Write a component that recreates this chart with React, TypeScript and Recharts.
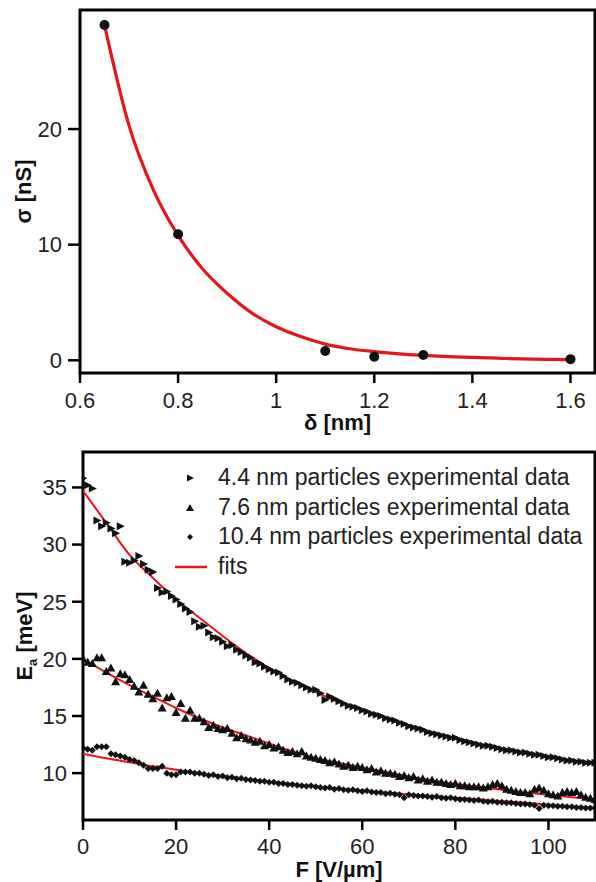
import React from 'react';
import { ComposedChart, Scatter, Line, XAxis, YAxis, ReferenceArea } from 'recharts';

const FONT = '"Liberation Sans", Arial, Helvetica, sans-serif';
const RED = '#e8141c';
const INK = '#111';
const TICK_INK = '#222';

// ---------- Top panel: sigma vs delta ----------
const deltaPoints = [0.65, 0.8, 1.1, 1.2, 1.3, 1.6];
const sigmaPoints = [29.0, 10.9, 0.8, 0.3, 0.45, 0.1];
const deltaFit = [0.65, 0.7, 0.75, 0.8, 0.85, 0.9, 0.95, 1.0, 1.05, 1.1, 1.15, 1.2, 1.25, 1.3, 1.35, 1.4, 1.45, 1.5, 1.55, 1.6];
const sigmaFit = [29.0, 20.3, 14.7, 10.8, 7.9, 5.8, 4.1, 2.9, 2.05, 1.4, 1.0, 0.75, 0.55, 0.42, 0.32, 0.25, 0.18, 0.12, 0.08, 0.05];
const deltaTicks = [0.6, 0.8, 1, 1.2, 1.4, 1.6];
const sigmaTicks = [0, 10, 20];
const deltaDomain = [0.6, 1.65];
const sigmaDomain = [-1.1, 30.3];

// ---------- Bottom panel: Ea vs F ----------
const fieldValues = [
  0, 1, 2, 3, 4, 5, 6, 7, 8, 9, 10, 11, 12, 13, 14, 15, 16, 17, 18, 19,
  20, 21, 22, 23, 24, 25, 26, 27, 28, 29, 30, 31, 32, 33, 34, 35, 36, 37, 38, 39,
  40, 41, 42, 43, 44, 45, 46, 47, 48, 49, 50, 51, 52, 53, 54, 55, 56, 57, 58, 59,
  60, 61, 62, 63, 64, 65, 66, 67, 68, 69, 70, 71, 72, 73, 74, 75, 76, 77, 78, 79,
  80, 81, 82, 83, 84, 85, 86, 87, 88, 89, 90, 91, 92, 93, 94, 95, 96, 97, 98, 99,
  100, 101, 102, 103, 104, 105, 106, 107, 108, 109, 110,
];
const ea44 = [
  35.8, 35.2, 34.9, 32.1, 31.6, 31.9, 31.4, 31.0, 31.6, 28.5, 28.4, 28.6, 29.0, 28.3, 27.8, 27.6, 26.2, 25.8, 25.9, 25.5,
  25.2, 24.8, 24.4, 24.1, 23.3, 22.8, 22.9, 22.3, 21.9, 21.8, 21.5, 21.1, 21.2, 20.8, 20.6, 20.3, 20.1, 19.7, 19.6, 19.3,
  19.1, 18.9, 18.8, 18.5, 18.2, 18.0, 17.9, 17.7, 17.5, 17.3, 17.3, 17.0, 16.4, 16.7, 16.5, 16.3, 16.1, 15.9, 15.8, 15.7,
  15.5, 15.4, 15.2, 15.1, 15.0, 14.8, 14.7, 14.6, 14.4, 14.3, 14.1, 14.0, 13.9, 13.8, 13.6, 13.5, 13.4, 13.3, 13.2, 13.1,
  13.1, 12.9, 12.8, 12.7, 12.6, 12.5, 12.4, 12.4, 12.3, 12.2, 12.1, 12.0, 12.0, 11.9, 11.8, 11.8, 11.7, 11.6, 11.6, 11.5,
  11.4, 11.4, 11.3, 11.2, 11.1, 11.1, 11.0, 11.0, 10.9, 10.9, 10.9,
];
const ea76 = [
  20.0, 19.7, 19.6, 20.1, 20.1, 18.9, 19.2, 18.0, 18.7, 18.6, 18.2, 17.6, 17.1, 17.7, 16.9, 16.5, 17.0, 15.7, 16.6, 16.7,
  15.3, 16.1, 14.8, 15.5, 14.8, 14.8, 14.5, 14.0, 14.2, 13.9, 13.8, 13.9, 13.5, 13.1, 13.3, 13.0, 12.9, 12.7, 12.8, 12.4,
  12.5, 12.2, 12.3, 12.0, 11.8, 11.9, 11.7, 11.9, 11.5, 11.4, 11.3, 11.2, 11.1, 10.9, 11.0, 10.8, 10.6, 10.7, 10.5, 10.6,
  10.5, 10.3, 10.4, 10.1, 10.2, 10.0, 10.0, 9.9, 9.7, 9.8, 9.6, 9.7, 9.4, 9.5, 9.3, 9.4, 9.2, 9.2, 9.1, 9.0,
  9.1, 8.9, 8.9, 8.8, 8.8, 8.8, 8.7, 8.8, 9.0, 9.1, 8.9, 8.6, 8.5, 8.4, 8.3, 8.3, 8.2, 8.6, 8.7, 8.5,
  8.2, 8.1, 8.0, 8.3, 8.4, 8.3, 8.4, 8.1, 7.9, 7.8, 7.7,
];
const ea104 = [
  12.2, 12.1, 12.0, 12.3, 12.3, 12.3, 11.7, 11.6, 11.5, 11.4, 11.2, 11.1, 10.9, 10.7, 10.4, 10.4, 10.4, 10.6, 10.0, 9.85,
  9.85, 10.1, 10.1, 10.1, 10.0, 10.0, 9.9, 9.8, 9.85, 9.7, 9.75, 9.6, 9.65, 9.5, 9.55, 9.45, 9.4, 9.35, 9.3, 9.3,
  9.2, 9.2, 9.1, 9.1, 9.0, 9.0, 8.95, 8.9, 8.85, 8.9, 8.8, 8.75, 8.7, 8.75, 8.6, 8.65, 8.55, 8.5, 8.55, 8.45,
  8.4, 8.45, 8.35, 8.3, 8.3, 8.2, 8.25, 8.15, 8.1, 7.85, 8.1, 8.05, 8.0, 8.0, 7.95, 7.9, 7.95, 7.85, 7.8, 7.85,
  7.75, 7.7, 7.7, 7.65, 7.6, 7.65, 7.55, 7.5, 7.55, 7.45, 7.45, 7.4, 7.4, 7.35, 7.3, 7.3, 7.25, 7.2, 6.9, 7.2,
  7.15, 7.15, 7.1, 7.1, 7.05, 7.05, 7.0, 7.0, 6.95, 6.95, 6.95,
];
const fieldFit = [0, 5, 10, 15, 20, 25, 30, 35, 40, 45, 50, 55, 60, 65, 70, 75, 80, 85, 90, 95, 100, 105, 110];
const fit44 = [34.7, 31.9, 29.1, 27.1, 25.2, 23.6, 22.0, 20.5, 19.2, 18.1, 17.1, 16.2, 15.5, 14.8, 14.1, 13.5, 13.0, 12.5, 12.1, 11.75, 11.4, 11.1, 10.9];
const fit76 = [20.0, 18.8, 17.7, 16.7, 15.7, 14.8, 14.0, 13.3, 12.6, 11.9, 11.3, 10.9, 10.5, 10.1, 9.7, 9.35, 9.05, 8.8, 8.55, 8.3, 8.1, 7.9, 7.7];
const fit104 = [11.7, 11.3, 10.95, 10.6, 10.3, 10.0, 9.75, 9.5, 9.25, 9.05, 8.85, 8.65, 8.5, 8.3, 8.15, 8.0, 7.85, 7.7, 7.55, 7.4, 7.25, 7.1, 6.95];
const fieldTicks = [0, 20, 40, 60, 80, 100];
const eaTicks = [10, 15, 20, 25, 30, 35];
const fieldDomain = [0, 110];
const eaDomain = [5.9, 38.1];
const seriesNames = [
  '4.4 nm particles experimental data',
  '7.6 nm particles experimental data',
  '10.4 nm particles experimental data',
  'fits',
];

const toXY = (xs: number[], ys: number[]) => xs.map((x, i) => ({ x, y: ys[i] }));

const topPoints = toXY(deltaPoints, sigmaPoints);
const topFit = toXY(deltaFit, sigmaFit);
const d44 = toXY(fieldValues, ea44);
const d76 = toXY(fieldValues, ea76);
const d104 = toXY(fieldValues, ea104);
const f44 = toXY(fieldFit, fit44);
const f76 = toXY(fieldFit, fit76);
const f104 = toXY(fieldFit, fit104);

// ---------- marker shapes ----------
const Dot = (p: any) => (p.cx == null ? null : <circle cx={p.cx} cy={p.cy} r={5} fill={INK} />);
const RightTri = (p: any) =>
  p.cx == null ? null : (
    <path d={`M${p.cx - 3.5},${p.cy - 4}L${p.cx + 4.5},${p.cy}L${p.cx - 3.5},${p.cy + 4}Z`} fill={INK} />
  );
const UpTri = (p: any) =>
  p.cx == null ? null : (
    <path d={`M${p.cx},${p.cy - 4.5}L${p.cx + 4.5},${p.cy + 3.5}L${p.cx - 4.5},${p.cy + 3.5}Z`} fill={INK} />
  );
const Diamond = (p: any) =>
  p.cx == null ? null : (
    <path d={`M${p.cx},${p.cy - 3.5}L${p.cx + 3.5},${p.cy}L${p.cx},${p.cy + 3.5}L${p.cx - 3.5},${p.cy}Z`} fill={INK} />
  );

// ---------- axis titles ----------
const yTitle = (content: React.ReactNode, dx: number) => (props: any) => {
  const vb = props.viewBox || { x: 0, y: 0, width: 0, height: 0 };
  const x = vb.x + dx;
  const y = vb.y + vb.height / 2;
  return (
    <text x={x} y={y} transform={`rotate(-90 ${x} ${y})`} textAnchor="middle" fontFamily={FONT} fontWeight="bold" fontSize={22} fill={INK}>
      {content}
    </text>
  );
};
const xTitle = (content: React.ReactNode, dy: number) => (props: any) => {
  const vb = props.viewBox || { x: 0, y: 0, width: 0, height: 0 };
  const x = vb.x + vb.width / 2;
  const y = vb.y + dy;
  return (
    <text x={x} y={y} textAnchor="middle" fontFamily={FONT} fontWeight="bold" fontSize={22} fill={INK}>
      {content}
    </text>
  );
};

const tickStyle = { fontSize: 22, fill: TICK_INK, fontFamily: FONT };
const tickLine = { stroke: '#000', strokeWidth: 2.5 };

const legendMarkers = [
  <svg width={40} height={14} key="m0"><path d="M17,3.5L24,7L17,10.5Z" fill={INK} /></svg>,
  <svg width={40} height={14} key="m1"><path d="M20,3L24,10L16,10Z" fill={INK} /></svg>,
  <svg width={40} height={14} key="m2"><path d="M20,4L23,7L20,10L17,7Z" fill={INK} /></svg>,
  <svg width={40} height={14} key="m3"><line x1={5} y1={7} x2={37} y2={7} stroke={RED} strokeWidth={2.5} /></svg>,
];

export default function App() {
  return (
    <div style={{ position: 'absolute', left: 0, top: 0, width: 596, height: 882, background: '#fff', fontFamily: FONT }}>
      <ComposedChart width={596} height={440} margin={{ top: 10, right: 1, bottom: 10, left: 0 }}>
        <XAxis
          dataKey="x"
          type="number"
          domain={deltaDomain}
          ticks={deltaTicks}
          interval={0}
          allowDataOverflow
          axisLine={false}
          tickLine={tickLine}
          tickSize={10}
          tickMargin={9}
          tick={tickStyle}
          height={57}
          label={xTitle('δ [nm]', 57)}
        />
        <YAxis
          dataKey="y"
          type="number"
          domain={sigmaDomain}
          ticks={sigmaTicks}
          interval={0}
          allowDataOverflow
          axisLine={false}
          tickLine={tickLine}
          tickSize={12}
          tickMargin={6}
          tick={tickStyle}
          width={80}
          label={yTitle('σ [nS]', 31)}
        />
        <Scatter data={topPoints} shape={Dot} isAnimationActive={false} />
        <Line data={topFit} dataKey="y" type="monotone" stroke={RED} strokeWidth={3.2} dot={false} activeDot={false} isAnimationActive={false} />
        <ReferenceArea x1={deltaDomain[0]} x2={deltaDomain[1]} y1={sigmaDomain[0]} y2={sigmaDomain[1]} fill="none" stroke="#000" strokeWidth={3} ifOverflow="visible" />
      </ComposedChart>

      <ComposedChart width={596} height={442} margin={{ top: 12, right: 1, bottom: 10, left: 0 }}>
        <XAxis
          dataKey="x"
          type="number"
          domain={fieldDomain}
          ticks={fieldTicks}
          interval={0}
          allowDataOverflow
          axisLine={false}
          tickLine={tickLine}
          tickSize={10}
          tickMargin={8}
          tick={tickStyle}
          height={52}
          label={xTitle('F [V/µm]', 57)}
        />
        <YAxis
          dataKey="y"
          type="number"
          domain={eaDomain}
          ticks={eaTicks}
          interval={0}
          allowDataOverflow
          axisLine={false}
          tickLine={tickLine}
          tickSize={11}
          tickMargin={5}
          tick={tickStyle}
          width={83}
          label={yTitle(
            <>
              <tspan>E</tspan>
              <tspan fontSize={13} dy={5}>a</tspan>
              <tspan dy={-5}> [meV]</tspan>
            </>,
            32
          )}
        />
        <Scatter data={d44} shape={RightTri} isAnimationActive={false} />
        <Scatter data={d76} shape={UpTri} isAnimationActive={false} />
        <Scatter data={d104} shape={Diamond} isAnimationActive={false} />
        <Line data={f44} dataKey="y" type="monotone" stroke={RED} strokeWidth={2} dot={false} activeDot={false} isAnimationActive={false} />
        <Line data={f76} dataKey="y" type="monotone" stroke={RED} strokeWidth={2} dot={false} activeDot={false} isAnimationActive={false} />
        <Line data={f104} dataKey="y" type="monotone" stroke={RED} strokeWidth={2} dot={false} activeDot={false} isAnimationActive={false} />
        <ReferenceArea x1={fieldDomain[0]} x2={fieldDomain[1]} y1={eaDomain[0]} y2={eaDomain[1]} fill="none" stroke="#000" strokeWidth={3} ifOverflow="visible" />
      </ComposedChart>

      <div style={{ position: 'absolute', left: 170, top: 463, fontFamily: FONT, fontSize: 23, color: TICK_INK, lineHeight: '29.7px' }}>
        {seriesNames.map((name, i) => (
          <div key={name} style={{ display: 'flex', alignItems: 'center', height: 29.7, whiteSpace: 'nowrap' }}>
            {legendMarkers[i]}
            <span style={{ marginLeft: 8 }}>{name}</span>
          </div>
        ))}
      </div>
    </div>
  );
}
